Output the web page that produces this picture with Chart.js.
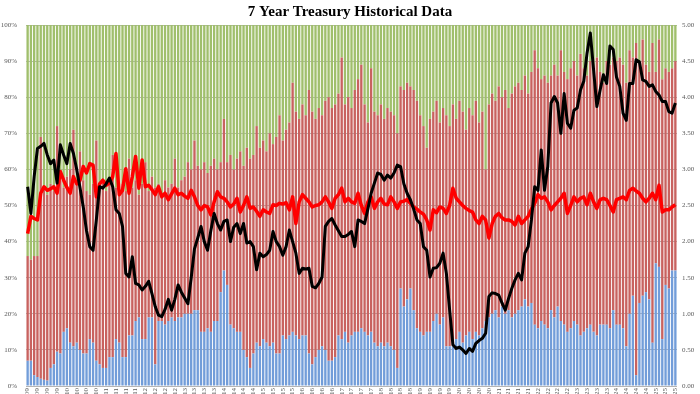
<!DOCTYPE html>
<html>
<head>
<meta charset="utf-8">
<script src="https://cdn.jsdelivr.net/npm/chart.js@4.4.1/dist/chart.umd.min.js"></script>
<style>
  html, body { margin: 0; padding: 0; background: #fff; overflow: hidden; }
  #wrap { width: 700px; height: 428px; }
</style>
</head>
<body>
<div id="wrap"><canvas id="chart"></canvas></div>
<script>
// monthly 7Y auctions, Feb-09 .. Aug-25
const months = ['Jan','Feb','Mar','Apr','May','Jun','Jul','Aug','Sep','Oct','Nov','Dec'];
const auctionDates = [];
for (let k = 0; k < 199; k++) {
    const m = (1 + k) % 12, y = 2009 + Math.floor((1 + k) / 12);
    auctionDates.push(months[m] + '-' + String(y).slice(2));
}

// allotment, % of total (blue = directs, red = indirects, green = dealers)
const directs = [
    7,7,3,2.5,2,1.7,1.5,5,6,9.5, 9,15,16,12,11,12,10,9,9,13,
    12,7,6,5,5,8,8,13,12,8, 8,14,14,18,19,13,13,19,19,6,
    18,18,17,18,19,18,19,19,20,20, 20,21,21,15,15,16,15,18,18,26,
    32,28,17,16,15,15,10,8,5,9, 12,11,13,12,11,12,9,9,14,13,
    14,15,14,13,14,14,9,6,8,10, 11,10,7,7,8,14,13,15,12,14,
    15,15,16,15,14,15,12,11,12,11, 12,11,10,5,27,22,24,27,21,16,
    15,14,15,15,18,20,17,19,11,11, 11,13,15,12,14,15,13,15,14,16,
    18,19,20,21,19,22,20,21,19,20, 21,22,24,22,23,17,16,18,17,16,
    21,19,22,18,17,15,16,18,17,14, 15,16,17,15,14,17,17,17,16,21,
    17,17,16,11,20,25,3,23,25,26, 24,12,34,33,13,28,27,32,32
];
const indirects = [
    29,28,33,33.5,67,53.3,51.5,51,48,62.5, 48,40,42,48,60,44,55,48,45,40,
    44,61,49,52,49,48,56,42,41,48, 46,49,41,39,34,43,49,35,39,49,
    38,35,40,37,37,45,36,38,38,42, 40,47,40,45,47,43,46,45,42,36,
    42,34,47,44,48,50,51,58,58,55, 60,55,55,53,59,55,60,66,54,58,
    59,69,62,61,64,61,73,70,66,67, 64,69,73,70,70,67,78,63,68,63,
    67,70,73,63,59,73,64,64,66,63, 65,65,65,65,56,60,60,56,61,63,
    60,58,51,59,58,59,56,58,64,61, 67,61,64,64,57,62,62,64,59,60,
    42,59,61,58,64,58,62,56,62,63, 63,60,62,59,64,76,72,67,69,68,
    65,70,64,75,70,70,72,72,69,78, 73,70,73,72,77,70,67,73,73,70,
    73,74,73,73,73,66,92,67,71,63, 63,83,53,63,72,60,60,56,58
];
const dealers = [
    64,65,64,64,31,45,47,44,46,28, 43,45,42,40,29,44,35,43,46,47,
    44,32,45,43,46,44,36,45,47,44, 46,37,45,43,47,44,38,46,42,45,
    44,47,43,45,44,37,45,43,42,38, 40,32,39,40,38,41,39,37,40,38,
    26,38,36,40,37,35,39,34,37,36, 28,34,32,35,30,33,31,25,32,29,
    27,16,24,26,22,25,18,24,26,23, 25,21,20,23,22,19,9,22,20,23,
    18,15,11,22,27,12,24,25,22,26, 23,24,25,30,17,18,16,17,18,21,
    25,28,34,26,24,21,27,23,25,28, 22,26,21,24,29,23,25,21,27,24,
    40,22,19,21,17,20,18,23,19,17, 16,18,14,19,13,7,12,15,14,16,
    14,11,14,7,13,15,12,10,14,8, 12,14,10,13,9,13,16,10,11,9,
    10,9,11,16,7,9,5,10,4,11, 13,5,13,4,15,12,13,12,10
];

// bid to cover (red line) and high yield (black line), right axis
const bidToCover = [
    2.11,2.35,2.32,2.3,2.67,2.76,2.71,2.73,2.76,2.67, 2.97,2.85,2.75,2.67,2.9,2.8,2.85,3.04,2.95,3.08,
    3.06,2.62,2.8,2.85,2.78,2.81,2.9,3.22,2.65,2.71, 3.01,2.67,2.9,3.18,2.74,3.13,2.76,2.78,2.72,2.65,
    2.76,2.62,2.67,2.58,2.66,2.74,2.65,2.67,2.63,2.6, 2.71,2.62,2.5,2.44,2.5,2.48,2.37,2.55,2.69,2.62,
    2.6,2.55,2.48,2.52,2.6,2.41,2.5,2.62,2.46,2.48, 2.42,2.35,2.44,2.41,2.39,2.51,2.5,2.53,2.52,2.54,
    2.44,2.62,2.25,2.55,2.65,2.6,2.55,2.48,2.5,2.51, 2.55,2.62,2.55,2.46,2.6,2.65,2.74,2.55,2.6,2.55,
    2.53,2.67,2.5,2.39,2.55,2.62,2.46,2.55,2.6,2.52, 2.51,2.62,2.55,2.46,2.55,2.56,2.58,2.53,2.48,2.45,
    2.41,2.38,2.3,2.16,2.44,2.4,2.48,2.46,2.39,2.5, 2.74,2.6,2.55,2.5,2.46,2.43,2.41,2.3,2.25,2.35,
    2.3,2.05,2.25,2.35,2.39,2.33,2.3,2.3,2.28,2.23, 2.35,2.25,2.3,2.35,2.45,2.53,2.65,2.6,2.62,2.55,
    2.44,2.5,2.55,2.6,2.67,2.39,2.5,2.62,2.55,2.6, 2.62,2.51,2.67,2.55,2.46,2.58,2.6,2.58,2.5,2.41,
    2.58,2.6,2.62,2.58,2.71,2.74,2.7,2.67,2.6,2.55, 2.6,2.67,2.58,2.78,2.41,2.44,2.44,2.48,2.51
];
const highYield = [
    2.76,2.39,2.9,3.29,3.32,3.36,3.2,3.08,3.13,2.81, 3.34,3.2,3.08,3.36,3.22,3.0,2.75,2.48,2.15,1.93,
    1.88,2.3,2.76,2.74,2.8,2.88,2.76,2.44,2.39,2.21, 1.56,1.51,1.79,1.42,1.4,1.33,1.38,1.45,1.28,1.1,
    0.98,0.96,1.06,1.2,1.05,1.2,1.4,1.3,1.22,1.14, 1.5,1.9,2.05,2.21,2.0,1.88,2.15,2.39,2.25,2.16,
    2.28,2.3,2.0,2.2,2.25,2.11,2.25,1.98,2.0,1.93, 1.61,1.84,1.79,1.82,1.88,2.14,2.0,1.93,1.81,1.93,
    2.16,2.0,1.84,1.56,1.63,1.62,1.63,1.38,1.36,1.42, 1.51,2.21,2.28,2.32,2.23,2.15,2.07,2.07,2.1,2.14,
    1.93,2.3,2.28,2.25,2.45,2.67,2.81,2.95,2.93,2.85, 2.92,2.88,2.95,3.06,3.04,2.8,2.67,2.58,2.45,2.3,
    2.25,1.93,1.88,1.51,1.63,1.64,1.7,1.84,1.56,1.05, 0.57,0.52,0.54,0.5,0.45,0.52,0.48,0.59,0.63,0.66,
    0.73,1.24,1.29,1.28,1.26,1.15,1.05,1.21,1.35,1.47, 1.56,1.47,1.84,1.93,2.3,2.76,2.71,3.27,2.71,3.04,
    3.92,4.01,3.92,3.5,4.05,3.64,3.57,3.82,3.85,4.1, 4.22,4.61,4.89,4.38,3.87,4.1,4.31,4.19,4.71,4.66,
    4.28,4.15,3.78,3.68,4.19,4.19,4.52,4.49,4.24,4.22, 4.15,4.17,4.08,4.03,3.94,3.94,3.8,3.78,3.92
];

const tickFont = { family: 'Liberation Serif', size: 7 };

new Chart(document.getElementById('chart'), {
    type: 'bar',
    data: {
        labels: auctionDates,
        datasets: [
            { type: 'line', label: 'High Yield', data: highYield, yAxisID: 'y2', order: 0,
              borderColor: '#000000', borderWidth: 3, pointRadius: 0, tension: 0, borderJoinStyle: 'round' },
            { type: 'line', label: 'Bid to Cover', data: bidToCover, yAxisID: 'y2', order: 1,
              borderColor: '#ff0000', borderWidth: 3.5, pointRadius: 0, tension: 0, borderJoinStyle: 'round' },
            { label: 'Directs', data: directs, backgroundColor: '#729dd9', order: 2,
              barPercentage: 0.72, categoryPercentage: 1 },
            { label: 'Indirects', data: indirects, backgroundColor: '#c8625f', order: 2,
              barPercentage: 0.72, categoryPercentage: 1 },
            { label: 'Dealers', data: dealers, backgroundColor: '#a0bf6c', order: 2,
              barPercentage: 0.72, categoryPercentage: 1 }
        ]
    },
    options: {
        responsive: true,
        maintainAspectRatio: false,
        animation: false,
        layout: { padding: { left: 0, right: 0, top: 0, bottom: 0 } },
        plugins: {
            legend: { display: false },
            tooltip: { enabled: false },
            title: {
                display: true,
                text: '7 Year Treasury Historical Data',
                color: '#000',
                font: { family: 'Liberation Serif', size: 15, weight: 'bold' },
                padding: { top: 3, bottom: 4 }
            }
        },
        scales: {
            x: {
                stacked: true,
                grid: { display: false, drawTicks: false },
                border: { display: false },
                ticks: {
                    autoSkip: false, maxRotation: 90, minRotation: 90, padding: 2,
                    color: '#595959', font: tickFont,
                    callback: (v, i) => i % 3 === 0 ? auctionDates[i] : ''
                },
                afterFit: s => { s.height = 42; }
            },
            y: {
                stacked: true, min: 0, max: 100,
                grid: { color: 'rgba(120,120,120,0.55)', drawTicks: false },
                border: { display: false },
                ticks: { stepSize: 10, padding: 9, color: '#595959', font: tickFont,
                         callback: v => v + '%' },
                afterFit: s => { s.width = 26; }
            },
            y2: {
                position: 'right', min: 0, max: 5,
                grid: { drawOnChartArea: false, drawTicks: false },
                border: { display: false },
                ticks: { stepSize: 0.5, padding: 5, color: '#595959', font: tickFont,
                         callback: v => v.toFixed(2) },
                afterFit: s => { s.width = 23; }
            }
        }
    }
});
</script>
</body>
</html>
